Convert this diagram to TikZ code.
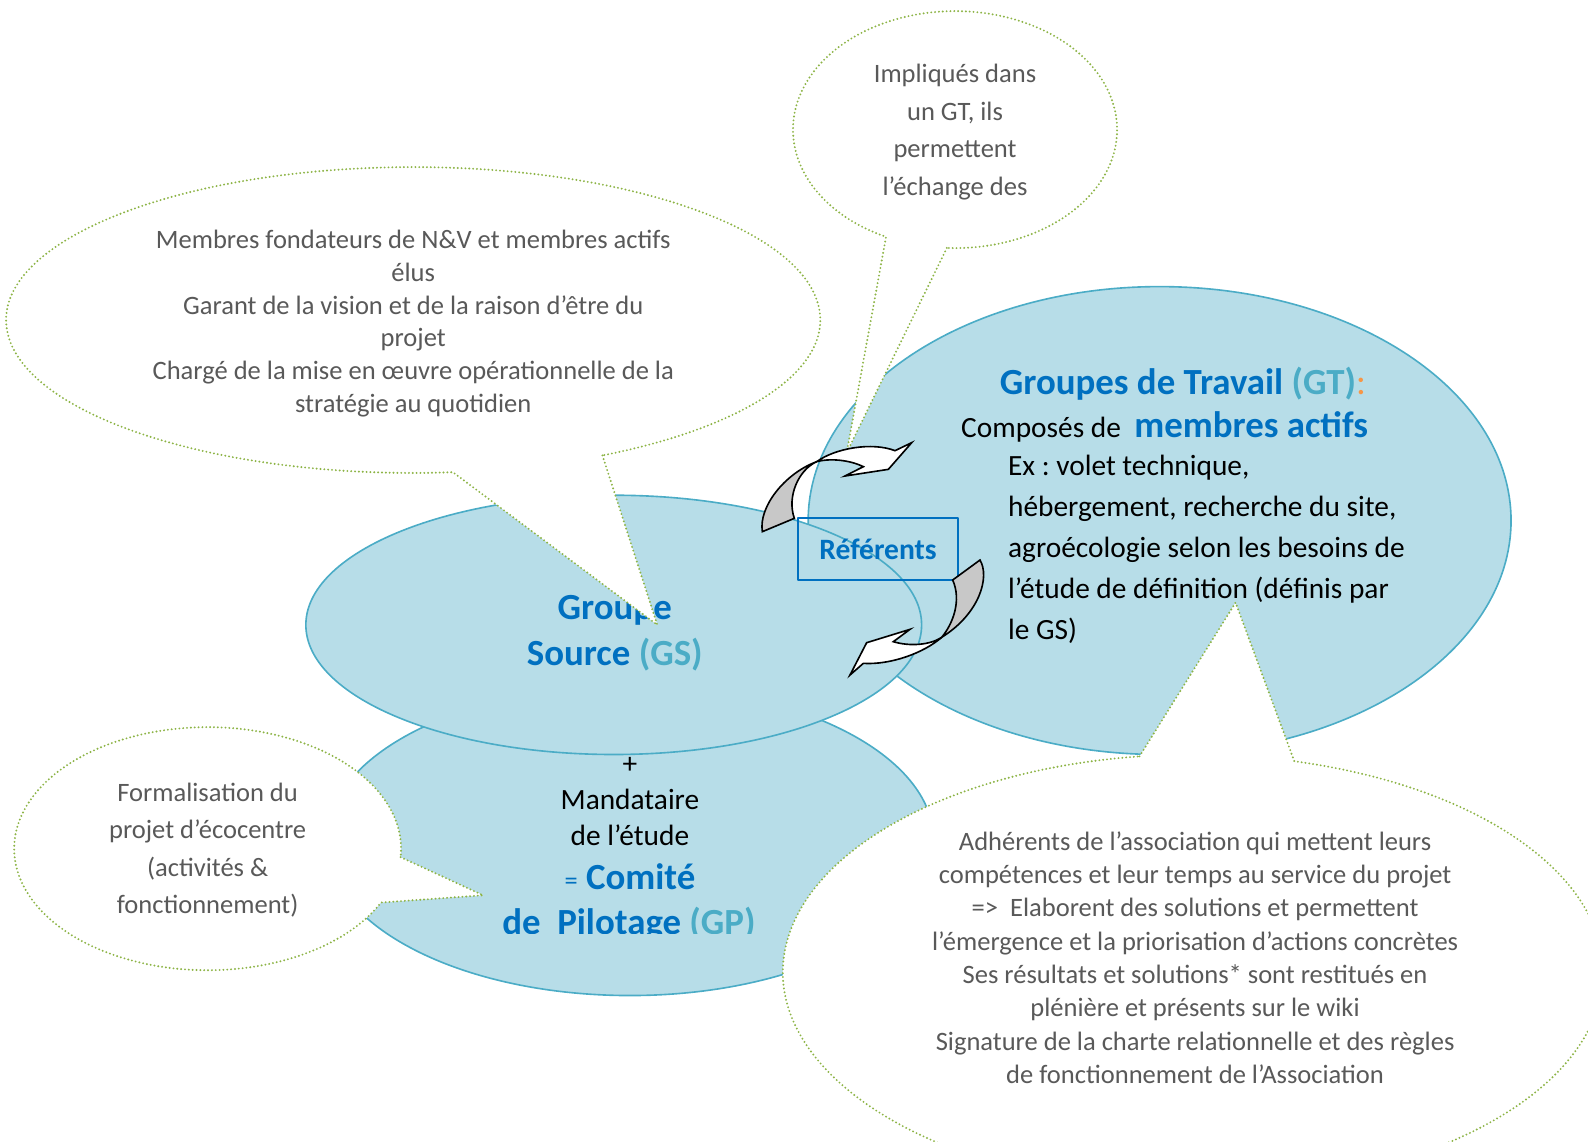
\documentclass[tikz,border=0pt]{standalone}
\usepackage{fontspec}
\setmainfont{Carlito}
\usepackage{xcolor}
\usetikzlibrary{calc}
\frenchspacing
\definecolor{fondGroupe}{HTML}{B7DDE8}
\definecolor{bordGroupe}{HTML}{4BACC6}
\definecolor{bleuTitre}{HTML}{0070C0}
\definecolor{bleuSigle}{HTML}{4BACC6}
\definecolor{orangeSigle}{HTML}{F79646}
\definecolor{vertBulle}{HTML}{8DB446}
\definecolor{grisTexte}{HTML}{595959}
\definecolor{grisFleche}{HTML}{C8C8C8}

\begin{document}
\begin{tikzpicture}[line cap=round,line join=round,x=0.5pt,y=-0.5pt,
    groupe/.style={fill=fondGroupe,draw=bordGroupe,line width=0.8pt},
    bulle/.style={fill=white,draw=vertBulle,line width=1.05pt,dash pattern=on 0pt off 1.9pt},
    fleche/.style={draw=black,line width=0.8pt,line join=miter},
    texteBulle/.style={text=grisTexte,align=center,inner sep=0pt},
    texteNoir/.style={text=black,inner sep=0pt,font=\fontsize{14.5}{20.25}\selectfont},
    titreGroupe/.style={text=bleuTitre,align=center,inner sep=0pt,font=\fontsize{18.2}{22.5}\selectfont\bfseries}]
  \useasboundingbox (0,0) rectangle (1568,1127);
  \clip (0,0) rectangle (1568,1127);
  % les trois groupes
  \filldraw [groupe] (622,830) ellipse [x radius=300, y radius=153];
  \filldraw [groupe] (1145,514) ellipse [x radius=347, y radius=231];
  \filldraw [groupe] (606,617) ellipse [x radius=304, y radius=128];
  \node [titreGroupe] (gtTitre) at (1168,379) {Groupes de Travail \textcolor{bleuSigle}{(GT)}{\mdseries\color{orangeSigle}:}};
  \node [texteNoir, anchor=base] (gtCompose) at (1150,432) {Composés de\ \ \textcolor{bleuTitre}{\fontsize{18.2}{22.5}\selectfont\bfseries membres actifs}};
  \node [texteNoir, anchor=west, align=left] (gtListe) at (995,542) {Ex : volet technique,\\hébergement, recherche du site,\\agroécologie selon les besoins de\\l’étude de définition (définis par\\le GS)};
  \node [titreGroupe] (gsNom) at (607,625) {Groupe\\Source \textcolor{bleuSigle}{(GS)}};
  \node [texteNoir, align=center, font=\fontsize{14.5}{17.75}\selectfont] (gpMandat) at (622,791.5) {+\\Mandataire\\de l’étude};
  \node [titreGroupe, anchor=base] (gpComite) at (622,878) {{\mdseries\fontsize{13}{15}\selectfont =} Comité};
  \begin{scope}
    \clip (0,0) rectangle (1568,922);
    \node [titreGroupe, anchor=base] (gpPilotage) at (621,923) {de\ \ Pilotage \textcolor{bleuSigle}{(GP)}};
  \end{scope}
  \node [draw=bleuTitre, line width=1pt, minimum width=79pt, minimum height=31pt, inner sep=0pt,
    text=bleuTitre, font=\fontsize{14.6}{17}\selectfont\bfseries] (referents) at (867,542) {Référents};
  % les bulles
  \filldraw [bulle] ($(408,316)+(62.3:402 and 151)$) -- (649,617) -- ($(408,316)+(84.4:402 and 151)$)
    arc [start angle=84.4, end angle=422.3, x radius=402, y radius=151] -- cycle;
  \node [texteBulle, font=\fontsize{13.1}{16.15}\selectfont] (bulleGS) at (408,319.5) {Membres fondateurs de N\&V et membres actifs\\élus\\Garant de la vision et de la raison d’être du\\projet\\Chargé de la mise en œuvre opérationnelle de la\\stratégie au quotidien};
  \filldraw [bulle] ($(943,128)+(92.9:160 and 117)$) -- (836,447) -- ($(943,128)+(115.2:160 and 117)$)
    arc [start angle=115.2, end angle=452.9, x radius=160, y radius=117] -- cycle;
  \node [texteBulle, font=\fontsize{13.1}{18.5}\selectfont] (bulleRef) at (943,130.5) {Impliqués dans\\un GT, ils\\permettent\\l’échange des};
  \filldraw [bulle] ($(205,838)+(4:191 and 120)$) -- (477,884) -- ($(205,838)+(26.3:191 and 120)$)
    arc [start angle=26.3, end angle=364, x radius=191, y radius=120] -- cycle;
  \node [texteBulle, font=\fontsize{13.1}{18.35}\selectfont] (bulleGP) at (205,839.5) {Formalisation du\\projet d’écocentre\\(activités \&\\fonctionnement)};
  \filldraw [bulle] ($(1178,960)+(262.5:405 and 215)$) -- (1220,595) -- ($(1178,960)+(284.3:405 and 215)$)
    arc [start angle=284.3, end angle=622.5, x radius=405, y radius=215] -- cycle;
  \node [texteBulle, font=\fontsize{13.1}{16.45}\selectfont] (bulleGT) at (1180,945.5) {Adhérents de l’association qui mettent leurs\\compétences et leur temps au service du projet\\=>\ \ Elaborent des solutions et permettent\\l’émergence et la priorisation d’actions concrètes\\Ses résultats et solutions* sont restitués en\\plénière et présents sur le wiki\\Signature de la charte relationnelle et des règles\\de fonctionnement de l’Association};
  % les fleches
  \begin{scope}[shift={(745.5,424.6)}, scale=0.32913]
    \filldraw [fleche, fill=grisFleche] (22,305) .. controls (10,230) and (90,130) .. (185,95)
      .. controls (130,120) and (95,200) .. (118,265) -- cycle;
    \filldraw [fleche, fill=white] (185,95) .. controls (240,55) and (350,35) .. (420,62) -- (470,38)
      -- (400,118) -- (270,138) -- (325,110) .. controls (280,88) and (220,85) .. (185,95) -- cycle;
  \end{scope}
  \begin{scope}[shift={(829.4,543.1)}, scale=0.32913]
    \filldraw [fleche, fill=grisFleche] (338,90) -- (420,30) .. controls (450,80) and (420,190) .. (305,262)
      .. controls (340,220) and (365,150) .. (338,90) -- cycle;
    \filldraw [fleche, fill=white] (305,262) .. controls (250,310) and (150,345) .. (70,340) -- (30,375)
      -- (80,278) -- (210,238) -- (160,275) .. controls (210,290) and (270,285) .. (305,262) -- cycle;
  \end{scope}
\end{tikzpicture}
\end{document}
